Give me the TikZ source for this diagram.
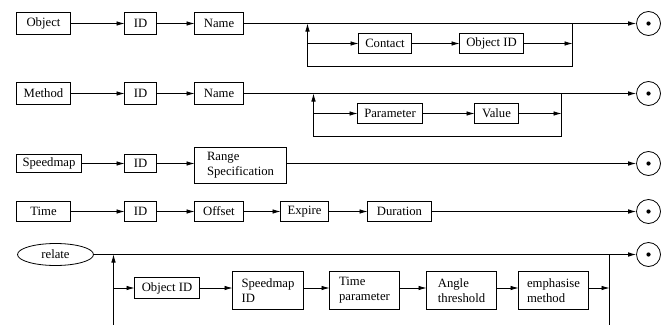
\documentclass[tikz,border=0pt]{standalone}
\usepackage{fontspec}
\setmainfont{Liberation Serif}
\usetikzlibrary{arrows.meta,shapes.geometric}

\tikzset{
  lbl/.style={font=\fontsize{12.7}{15}\selectfont},
  box/.style={lbl, draw, line width=0.8pt, inner sep=0pt, outer sep=0pt, anchor=north west, align=left},
  arr/.style={line width=0.8pt, -{Latex[length=8pt,width=4.6pt]}},
  ln/.style={line width=0.8pt},
  stopnode/.style={draw, circle, line width=0.8pt, minimum size=24pt, inner sep=0pt},
}
% place a box by its top-left corner (x1,y1) and bottom-right corner (x2,y2)
\newcommand{\bx}[6]{%
  \pgfmathsetmacro{\bw}{#4-#2}\pgfmathsetmacro{\bh}{#5-#3}%
  \node[box, minimum width=\bw pt, minimum height=\bh pt] (#1) at (#2,#3) {#6};}
\newcommand{\stopat}[3]{%
  \node[stopnode] (#1) at (#2,#3) {};
  \fill (#1.center) circle (2.1pt);}

\begin{document}
\begin{tikzpicture}[x=1pt,y=-1pt]
\useasboundingbox (0,0) rectangle (661,324);
% half-unit shift keeps the 1pt-grid strokes on whole pixels
\begin{scope}[shift={(0.5,0.5)}]

% ---- Object ----
\bx{obj}{16}{12}{70}{34}{Object}
\bx{objid}{124}{12}{156}{34}{ID}
\bx{objname}{194}{12}{243}{34}{Name}
\bx{contact}{358}{33}{411}{53}{Contact}
\bx{contoid}{459}{33}{523}{53}{Object ID}
\stopat{end1}{648}{23}
\coordinate (b1t) at (307,23);
\coordinate (b1b) at (307,66);
\coordinate (r1t) at (572,23);
\coordinate (r1b) at (572,66);
\draw[arr] (obj) -- (objid);
\draw[arr] (objid) -- (objname);
\draw[arr] (objname) -- (end1);
\draw[arr] (b1b) -- (b1t);
\draw[ln] (b1b) -- (r1b) -- (r1t);
\draw[arr] (b1b |- contact) -- (contact);
\draw[arr] (contact) -- (contoid);
\draw[arr] (contoid) -- (r1t |- contoid);

% ---- Method ----
\bx{meth}{16}{82}{70}{104}{Method}
\bx{methid}{124}{82}{156}{104}{ID}
\bx{methname}{194}{82}{243}{104}{Name}
\bx{param}{357}{103}{422}{123}{Parameter}
\bx{value}{474}{103}{518}{123}{Value}
\stopat{end2}{648}{93}
\coordinate (b2t) at (313,93);
\coordinate (b2b) at (313,136);
\coordinate (r2t) at (561,93);
\coordinate (r2b) at (561,136);
\draw[arr] (meth) -- (methid);
\draw[arr] (methid) -- (methname);
\draw[arr] (methname) -- (end2);
\draw[arr] (b2b) -- (b2t);
\draw[ln] (b2b) -- (r2b) -- (r2t);
\draw[arr] (b2b |- param) -- (param);
\draw[arr] (param) -- (value);
\draw[arr] (value) -- (r2t |- value);

% ---- Speedmap ----
\bx{spd}{16}{154}{81}{172}{Speedmap}
\bx{spdid}{124}{154}{156}{172}{ID}
\bx{range}{194}{147}{286}{183}{Range\\Specification}
\stopat{end3}{648}{163}
\draw[arr] (spd) -- (spdid);
\draw[arr] (spdid) -- (spdid -| range.west);
\draw[arr] (range.east |- end3) -- (end3);

% ---- Time ----
\bx{time}{16}{201}{70}{221}{Time}
\bx{timeid}{124}{201}{156}{221}{ID}
\bx{offset}{194}{201}{243}{221}{Offset}
\bx{expire}{280}{201}{328}{221}{Expire}
\bx{dur}{367}{201}{431}{221}{Duration}
\stopat{end4}{648}{211}
\draw[arr] (time) -- (timeid);
\draw[arr] (timeid) -- (offset);
\draw[arr] (offset) -- (expire);
\draw[arr] (expire) -- (dur);
\draw[arr] (dur) -- (end4);

% ---- relate ----
\node[lbl, draw, ellipse, line width=0.8pt, inner sep=0pt,
      minimum width=76pt, minimum height=22pt] (rel) at (55,254) {relate};
\bx{roid}{134}{277}{199}{298}{Object ID}
\bx{rspd}{232}{271}{303}{309}{Speedmap\\ID}
\bx{rtime}{329}{271}{399}{309}{Time\\parameter}
\bx{rangle}{426}{271}{496}{309}{Angle\\threshold}
\bx{remph}{518}{271}{588}{309}{emphasise\\method}
\stopat{end5}{648}{254}
\coordinate (b5t) at (113,254);
\coordinate (b5b) at (113,324);
\coordinate (r5t) at (609,254);
\coordinate (r5b) at (609,324);
\draw[arr] (rel) -- (end5);
\draw[arr] (b5b) -- (b5t);
\draw[ln] (r5t) -- (r5b);
\draw[arr] (b5b |- roid) -- (roid);
\draw[arr] (roid) -- (roid -| rspd.west);
\draw[arr] (rspd.east |- roid) -- (rtime.west |- roid);
\draw[arr] (rtime.east |- roid) -- (rangle.west |- roid);
\draw[arr] (rangle.east |- roid) -- (remph.west |- roid);
\draw[arr] (remph.east |- roid) -- (r5t |- roid);
\end{scope}
\end{tikzpicture}
\end{document}
